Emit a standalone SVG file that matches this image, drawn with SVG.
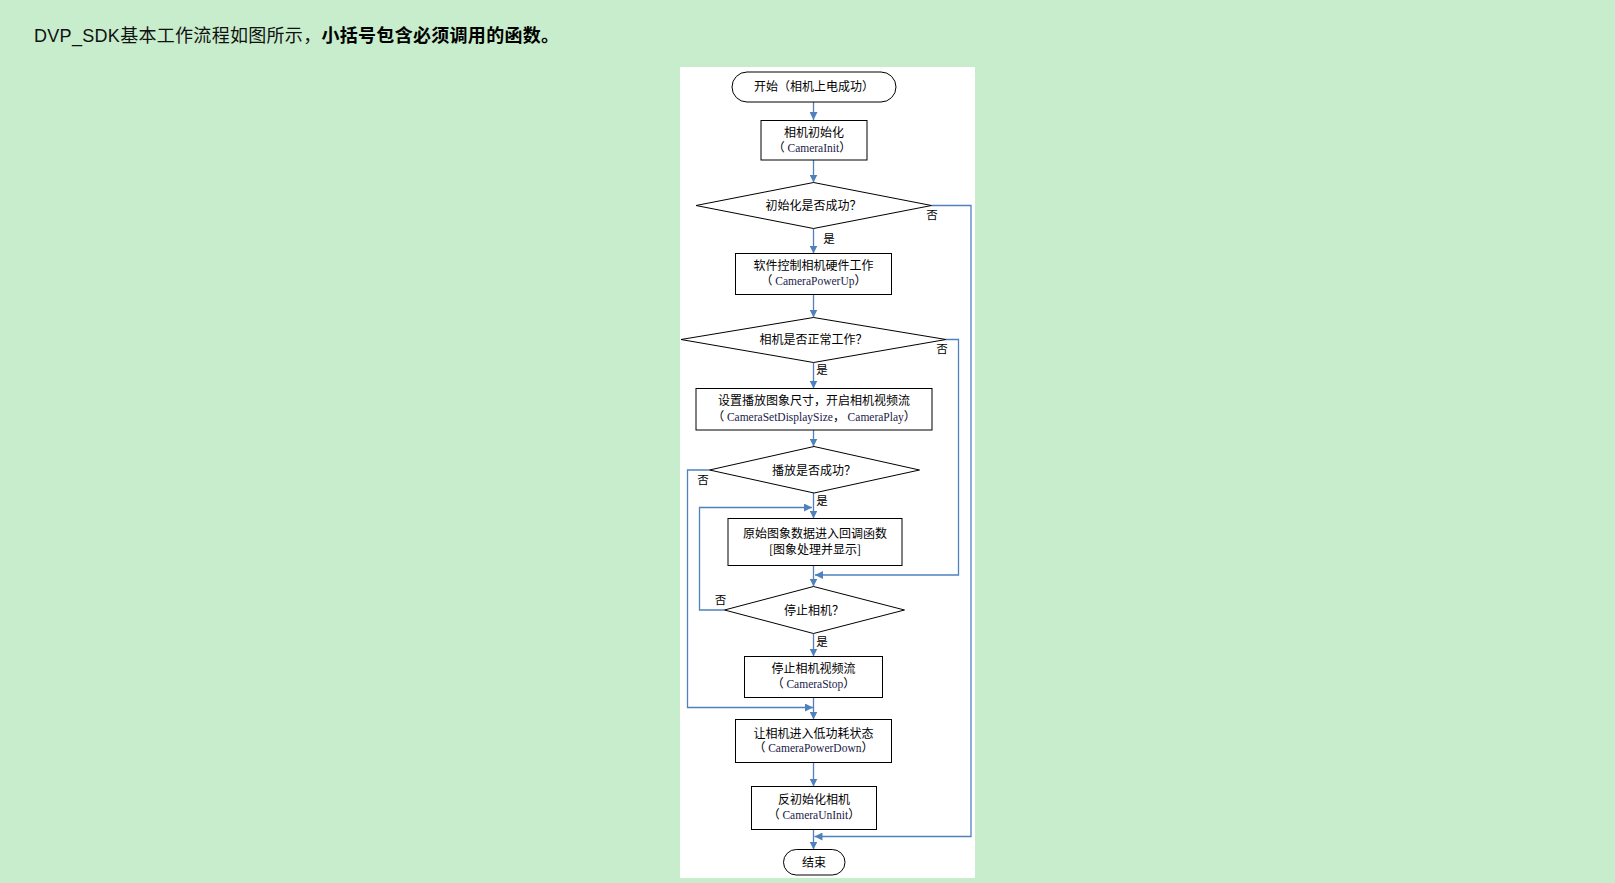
<svg xmlns="http://www.w3.org/2000/svg" width="1615" height="883" viewBox="0 0 1615 883">
<defs>
<style>
.t{font-family:"Noto Sans CJK SC","Liberation Sans",sans-serif;font-size:12px;fill:#000;text-anchor:middle}
.l{font-family:"Noto Sans CJK SC","Liberation Sans",sans-serif;font-size:11.5px;fill:#000;text-anchor:middle}
.s{font-family:"Liberation Serif","Noto Sans CJK SC",serif;font-size:11.5px;fill:#1a1a4a}
.n{fill:#fff;stroke:#000;stroke-width:1}
.c{fill:none;stroke:#4F81BD;stroke-width:1.3}
.a{marker-end:url(#ah)}
.h{font-family:"Liberation Sans","Noto Sans CJK SC",sans-serif;font-size:18px;fill:#111;letter-spacing:0.3px}
</style>
<marker id="ah" markerWidth="8" markerHeight="8" refX="8" refY="4" orient="auto" markerUnits="userSpaceOnUse">
<path d="M0,0 L8,4 L0,8 z" fill="#4F81BD"/>
</marker>
</defs>
<rect x="0" y="0" width="1615" height="883" fill="#C7EDCC"/>
<text class="h" x="34" y="41.5">DVP_SDK基本工作流程如图所示，<tspan font-weight="bold" fill="#000">小括号包含必须调用的函数。</tspan></text>
<rect x="680" y="67" width="295" height="811" fill="#fff"/>

<g id="connectors">
<path class="c a" d="M813.5,102 V120"/>
<path class="c a" d="M813.5,160 V182.5"/>
<path class="c a" d="M813.5,228.5 V253.5"/>
<path class="c a" d="M931.5,205.5 H971 V836.5 H814.5"/>
<path class="c a" d="M813.5,294.5 V317.5"/>
<path class="c a" d="M813.5,362.5 V388.5"/>
<path class="c a" d="M946,339.5 H958.5 V575 H815"/>
<path class="c a" d="M813.5,430 V446.5"/>
<path class="c a" d="M813.5,493 V518.5"/>
<path class="c a" d="M709.5,470 H687.5 V707.5 H813"/>
<path class="c a" d="M813.5,565.5 V586.5"/>
<path class="c a" d="M724.5,610 H699.5 V507.5 H812"/>
<path class="c a" d="M813.5,633.5 V656.5"/>
<path class="c a" d="M813.5,697.5 V719.5"/>
<path class="c a" d="M813.5,762.5 V786.5"/>
<path class="c a" d="M813.5,829.5 V849.5"/>
<text class="l" x="829" y="243">是</text>
<text class="l" x="932" y="219">否</text>
<text class="l" x="822" y="374">是</text>
<text class="l" x="942" y="353">否</text>
<text class="l" x="822" y="505">是</text>
<text class="l" x="703" y="483.5">否</text>
<text class="l" x="720.5" y="603.5">否</text>
<text class="l" x="822" y="645.5">是</text>
</g>

<g id="start">
<rect class="n" x="732" y="72" width="164" height="30" rx="15"/>
<text class="t" x="814" y="91">开始（相机上电成功）</text>
</g>
<g id="init">
<rect class="n" x="761" y="120.5" width="106" height="39.5"/>
<text class="t" x="814" y="137">相机初始化</text>
<text class="t" x="812" y="152">（ <tspan class="s">CameraInit</tspan>）</text>
</g>
<g id="check-init">
<polygon class="n" points="696,205.5 813.5,182.5 931.5,205.5 813.5,228.5"/>
<text class="t" x="813.5" y="210">初始化是否成功？</text>
</g>
<g id="powerup">
<rect class="n" x="735.5" y="253.5" width="156" height="41"/>
<text class="t" x="813.5" y="269.5">软件控制相机硬件工作</text>
<text class="t" x="813.5" y="285">（ <tspan class="s">CameraPowerUp</tspan>）</text>
</g>
<g id="check-work">
<polygon class="n" points="681,339.5 813.5,317.5 946,339.5 813.5,362.5"/>
<text class="t" x="813.5" y="344">相机是否正常工作？</text>
</g>
<g id="play">
<rect class="n" x="696" y="388.5" width="236" height="41.5"/>
<text class="t" x="814" y="405">设置播放图象尺寸，开启相机视频流</text>
<text class="t" x="814" y="421">（ <tspan class="s">CameraSetDisplaySize</tspan>， <tspan class="s">CameraPlay</tspan>）</text>
</g>
<g id="check-play">
<polygon class="n" points="709.5,470 814,446.5 919.5,470 814,493"/>
<text class="t" x="814" y="474.5">播放是否成功？</text>
</g>
<g id="callback">
<rect class="n" x="728" y="518.5" width="174" height="47"/>
<text class="t" x="815" y="538">原始图象数据进入回调函数</text>
<text class="t" x="815" y="553.5">[图象处理并显示]</text>
</g>
<g id="check-stop">
<polygon class="n" points="724.5,610 813.5,586.5 904.5,610 813.5,633.5"/>
<text class="t" x="814" y="614.5">停止相机？</text>
</g>
<g id="stop">
<rect class="n" x="744.5" y="656.5" width="138" height="41"/>
<text class="t" x="813.5" y="673">停止相机视频流</text>
<text class="t" x="813.5" y="687.5">（ <tspan class="s">CameraStop</tspan>）</text>
</g>
<g id="powerdown">
<rect class="n" x="735.5" y="719.5" width="156" height="43"/>
<text class="t" x="813.5" y="737.5">让相机进入低功耗状态</text>
<text class="t" x="813.5" y="752">（ <tspan class="s">CameraPowerDown</tspan>）</text>
</g>
<g id="uninit">
<rect class="n" x="751.5" y="786.5" width="125" height="43"/>
<text class="t" x="814" y="804">反初始化相机</text>
<text class="t" x="814" y="819">（ <tspan class="s">CameraUnInit</tspan>）</text>
</g>
<g id="end">
<rect class="n" x="783.5" y="849.5" width="61.5" height="25.5" rx="12.75"/>
<text class="t" x="814" y="866.5">结束</text>
</g>
</svg>
